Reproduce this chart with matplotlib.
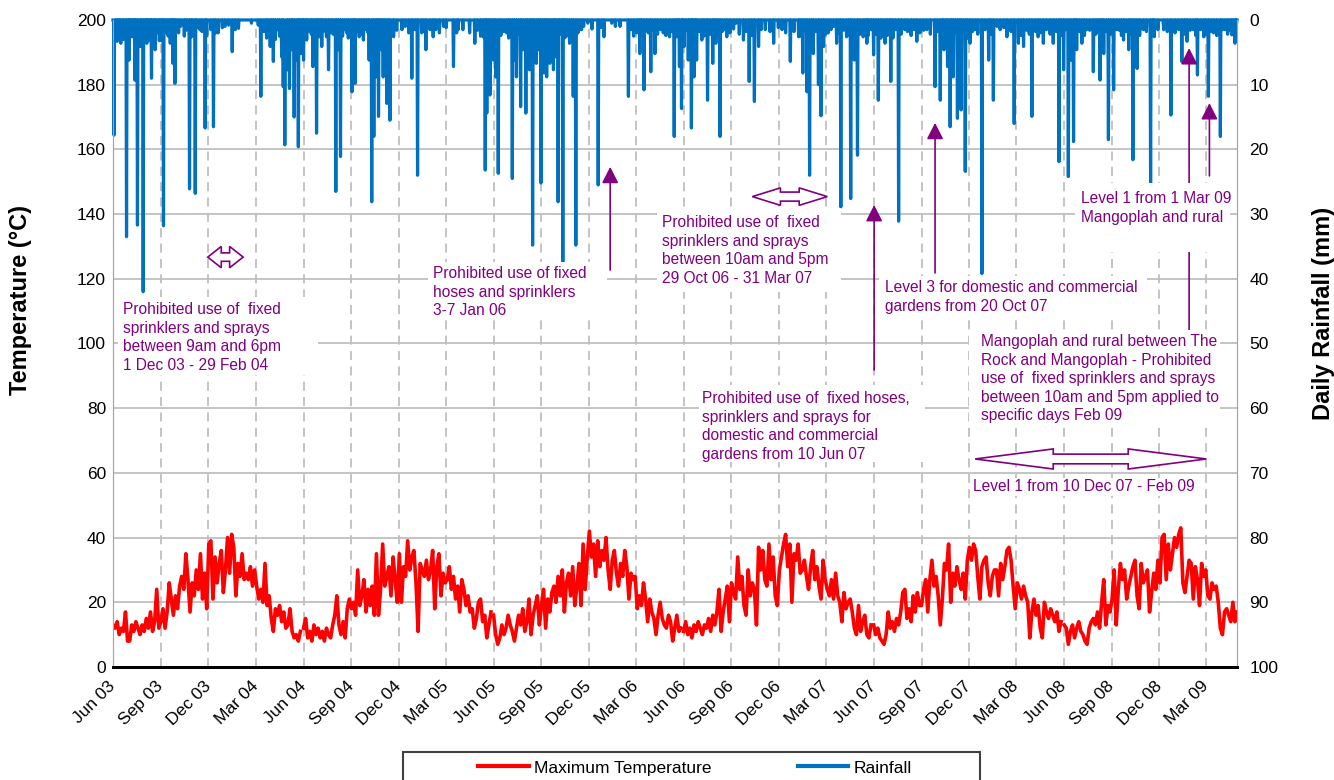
import numpy as np
import matplotlib
matplotlib.use('Agg')
import matplotlib.pyplot as plt
import matplotlib.dates as mdates
from matplotlib.patches import Polygon, Rectangle

plt.rcParams['font.family'] = ['Liberation Sans', 'DejaVu Sans']

temp_0304 = [13, 12, 14, 10, 12, 11, 17, 8, 8, 13, 11, 14, 12, 10, 13, 11, 15, 12, 17, 11, 14, 24, 12,
             14, 18, 12, 17, 26, 21, 16, 22, 18, 25, 28, 24, 35, 27, 17, 26, 22, 30, 24, 35, 21, 29, 18,
             38, 39, 21, 34, 26, 32, 36, 23, 30, 40, 29, 41, 37, 22, 32, 28, 35, 27, 29, 27, 31, 25, 30,
             25, 21, 24, 20, 32, 19, 22, 15, 11, 18, 16, 19, 14, 17, 12, 13, 18, 11, 9, 10, 8, 11]
temp_0405 = [12, 15, 9, 11, 8, 13, 10, 12, 9, 11, 8, 12, 10, 9, 13, 16, 22, 13, 10, 14, 9, 18, 21,
             18, 20, 16, 30, 19, 22, 27, 17, 24, 19, 25, 16, 35, 16, 24, 38, 25, 28, 31, 22, 34, 27, 20,
             35, 20, 31, 28, 39, 30, 34, 36, 26, 11, 32, 30, 28, 33, 27, 30, 36, 18, 31, 35, 22, 29, 26,
             27, 31, 24, 28, 21, 25, 17, 27, 24, 19, 22, 17, 18, 12, 15, 20, 21, 14, 16, 9, 13, 17]
temp_0506 = [16, 10, 7, 9, 13, 10, 12, 16, 13, 11, 8, 12, 16, 13, 18, 11, 14, 21, 10, 16, 19, 22, 13,
             19, 24, 12, 21, 17, 23, 25, 20, 28, 22, 30, 17, 26, 29, 22, 31, 19, 25, 32, 19, 38, 24, 34,
             42, 34, 38, 28, 39, 31, 36, 33, 40, 30, 24, 33, 36, 29, 25, 32, 28, 36, 31, 21, 29, 27, 28,
             18, 22, 19, 26, 21, 14, 21, 17, 15, 10, 16, 20, 15, 13, 12, 16, 14, 8, 12, 16, 11, 12]
temp_0607 = [11, 14, 10, 12, 9, 13, 11, 14, 12, 10, 13, 12, 15, 11, 16, 13, 17, 24, 11, 17, 21, 25, 14,
             26, 23, 21, 34, 24, 28, 19, 16, 30, 22, 26, 24, 13, 37, 30, 36, 27, 25, 38, 27, 34, 22, 19,
             30, 34, 38, 41, 31, 38, 20, 35, 33, 38, 29, 30, 33, 28, 24, 31, 36, 27, 31, 25, 21, 33, 27,
             24, 22, 27, 21, 29, 22, 20, 14, 23, 18, 20, 21, 17, 12, 10, 19, 11, 14, 16, 10, 9, 13]
temp_0708 = [13, 10, 12, 9, 8, 7, 10, 17, 12, 14, 11, 15, 13, 17, 23, 24, 15, 18, 14, 22, 17, 23, 19,
             19, 24, 27, 17, 27, 33, 25, 28, 22, 13, 21, 32, 30, 38, 20, 29, 25, 31, 27, 24, 29, 21, 33,
             37, 33, 38, 36, 28, 21, 31, 33, 34, 26, 22, 28, 30, 30, 22, 32, 27, 31, 36, 37, 33, 25, 18,
             26, 24, 21, 25, 22, 20, 9, 17, 21, 16, 19, 12, 9, 20, 17, 15, 18, 16, 14, 17, 11, 14]
temp_0809 = [13, 12, 7, 11, 13, 9, 12, 14, 11, 10, 8, 7, 12, 14, 15, 13, 17, 12, 20, 27, 13, 19, 17,
             21, 30, 13, 24, 32, 27, 30, 21, 25, 28, 31, 33, 22, 18, 32, 26, 28, 30, 17, 23, 29, 24, 33,
             26, 40, 41, 27, 38, 30, 35, 40, 37, 41, 43, 26, 23, 28, 33, 32, 21, 31, 27, 19, 32, 28, 30,
             22, 21, 26, 24, 25, 20, 12, 10, 17, 18, 16, 14, 20, 14, 17]
seasons = [temp_0304, temp_0405, temp_0506, temp_0607, temp_0708, temp_0809]
season_start = [0, 366, 731, 1096, 1461, 1827]   # days after 1 Jun 2003

# daily rainfall (mm): (day after 1 Jun 2003, mm) for the rain days
rain_events = [
    (2, 17.8), (8, 3.3), (15, 3.6), (26, 33.5), (31, 6.2), (36, 2.6), (42, 9.3), (47, 31.7),
    (53, 4.1), (58, 42.0), (65, 3.6), (70, 3.1), (74, 9.0), (81, 4.6), (87, 1.5), (92, 3.1),
    (97, 31.8), (103, 2.0), (110, 3.6), (115, 6.7), (119, 9.8), (126, 2.0), (143, 1.5), (147, 26.1),
    (151, 2.6), (158, 26.8), (167, 1.5), (177, 16.7), (193, 16.5), (202, 2.0), (215, 1.0), (222, 0.8),
    (229, 4.9), (241, 1.3), (266, 0.5), (279, 0.8), (284, 11.8), (298, 1.5), (302, 4.1), (308, 6.4),
    (324, 5.7), (327, 10.3), (330, 19.3), (335, 7.7), (339, 10.6), (343, 4.6), (348, 15.0), (352, 6.2),
    (356, 19.6), (361, 5.2), (366, 6.2), (372, 3.1), (378, 1.8), (384, 7.2), (391, 17.5), (396, 2.6),
    (401, 4.1), (407, 1.5), (414, 7.7), (420, 2.0), (428, 26.5), (433, 4.6), (437, 21.1), (449, 2.0),
    (459, 11.1), (465, 9.8), (473, 2.6), (481, 3.1), (487, 1.5), (492, 6.2), (497, 28.1), (501, 18.0),
    (505, 8.8), (510, 14.9), (515, 4.6), (519, 8.8), (526, 12.9), (532, 15.5), (539, 2.6), (555, 1.5),
    (561, 1.0), (574, 9.0), (585, 24.0), (593, 2.0), (601, 4.6), (609, 1.5), (615, 2.6), (627, 2.0),
    (635, 1.0), (654, 7.2), (663, 1.5), (695, 3.6), (711, 2.6), (715, 23.2), (718, 14.4), (724, 11.6),
    (731, 6.2), (735, 8.8), (740, 23.7), (756, 2.0), (767, 24.5), (771, 6.2), (775, 8.8), (783, 13.4),
    (788, 4.6), (793, 14.4), (800, 7.7), (806, 34.8), (813, 6.7), (817, 4.6), (822, 25.2), (828, 8.2),
    (833, 8.8), (839, 6.7), (846, 7.7), (851, 5.7), (855, 28.1), (864, 37.4), (870, 2.6), (877, 3.6),
    (884, 11.8), (889, 34.8), (897, 1.5), (904, 1.0), (912, 0.5), (932, 25.5), (943, 2.6), (958, 0.5),
    (974, 1.0), (990, 11.8), (1006, 2.0), (1012, 5.2), (1020, 10.8), (1025, 1.5), (1033, 8.0),
    (1041, 5.2), (1057, 2.0), (1069, 2.6), (1078, 18.0), (1088, 7.2), (1092, 13.7), (1097, 4.1),
    (1105, 6.2), (1111, 16.7), (1116, 8.8), (1121, 6.2), (1131, 3.1), (1142, 12.4), (1152, 6.7),
    (1158, 3.6), (1166, 18.0), (1179, 2.6), (1197, 0.5), (1211, 3.1), (1222, 9.5), (1232, 12.6),
    (1240, 4.1), (1253, 1.5), (1269, 3.6), (1285, 1.5), (1301, 6.4), (1317, 2.6), (1325, 8.2),
    (1333, 11.1), (1338, 24.0), (1345, 5.2), (1355, 10.0), (1360, 14.8), (1365, 4.1), (1374, 2.0),
    (1384, 1.0), (1390, 3.6), (1398, 28.9), (1409, 2.6), (1417, 27.6), (1424, 6.2), (1430, 20.9),
    (1441, 2.6), (1448, 3.6), (1454, 1.5), (1461, 5.4), (1470, 12.4), (1483, 3.6), (1494, 9.5),
    (1509, 31.1), (1521, 1.5), (1544, 3.3), (1563, 1.5), (1579, 10.3), (1589, 12.4), (1596, 4.6),
    (1603, 7.2), (1608, 16.5), (1614, 8.8), (1622, 15.2), (1629, 13.9), (1637, 23.4), (1646, 3.6),
    (1656, 1.5), (1669, 39.2), (1682, 6.2), (1691, 12.4), (1698, 1.0), (1717, 2.6), (1731, 16.0),
    (1739, 3.6), (1749, 4.1), (1765, 14.9), (1781, 2.0), (1787, 3.6), (1806, 3.6), (1817, 21.9),
    (1826, 7.7), (1835, 24.2), (1840, 6.2), (1845, 18.8), (1851, 4.6), (1861, 3.6), (1870, 1.5),
    (1883, 8.0), (1896, 9.3), (1903, 5.2), (1912, 18.5), (1922, 10.8), (1928, 1.5), (1941, 3.1),
    (1951, 4.6), (1959, 21.6), (1967, 7.5), (1979, 1.5), (1993, 25.5), (2000, 2.6), (2018, 1.5),
    (2032, 14.7), (2053, 6.4), (2063, 3.3), (2075, 1.5), (2083, 8.5), (2095, 2.6), (2104, 11.8),
    (2114, 2.0), (2127, 18.0), (2136, 1.5), (2149, 2.3), (2155, 3.6), (2158, 0.5),
]
# light falls that make the dense fringe along the top
rain_light = [
    (3, 1.5), (5, 2.5), (10, 1.2), (12, 2.0), (18, 1.5), (20, 3.0), (23, 1.0), (29, 2.2), (33, 1.4),
    (38, 2.0), (40, 1.2), (44, 3.0), (50, 1.8), (55, 2.5), (61, 1.2), (63, 3.5), (67, 2.0), (72, 1.5),
    (77, 2.8), (79, 1.0), (84, 2.0), (89, 3.2), (95, 2.0), (100, 1.4), (106, 2.5), (112, 1.8),
    (117, 2.2), (123, 1.5), (130, 1.0), (137, 2.5), (140, 1.6), (154, 2.0), (161, 1.2), (171, 1.8),
    (180, 2.4), (188, 1.5), (197, 2.0), (210, 1.2), (235, 1.5), (290, 1.8), (295, 2.8), (305, 2.0),
    (312, 3.0), (316, 1.5), (320, 2.5), (331, 3.0), (345, 2.2), (358, 2.5), (364, 1.8), (369, 2.5),
    (375, 1.6), (381, 2.2), (388, 3.0), (393, 1.5), (399, 2.0), (404, 1.8), (410, 2.6), (417, 1.4),
    (423, 2.2), (430, 1.8), (441, 2.5), (445, 1.5), (452, 2.8), (456, 1.6), (462, 2.4), (468, 1.8),
    (477, 2.2), (484, 1.4), (490, 2.0), (507, 2.5), (513, 1.8), (522, 2.5), (529, 1.4), (545, 1.6),
    (568, 2.0), (580, 1.5), (597, 1.8), (620, 1.5), (640, 1.2), (660, 2.0), (672, 1.5), (685, 2.0),
    (700, 1.6), (706, 2.5), (721, 2.0), (728, 1.5), (745, 2.4), (751, 1.8), (760, 2.8), (763, 1.5),
    (779, 2.2), (785, 1.8), (796, 2.5), (803, 1.5), (809, 2.6), (820, 2.0), (825, 1.4), (831, 2.8),
    (836, 1.5), (843, 2.4), (849, 1.8), (858, 2.2), (862, 1.5), (867, 2.8), (873, 1.6), (881, 2.2),
    (893, 2.0), (900, 1.5), (920, 1.4), (938, 1.2), (965, 1.0), (995, 1.5), (1000, 2.5), (1009, 1.8),
    (1015, 2.4), (1028, 2.0), (1036, 1.6), (1046, 2.2), (1052, 1.5), (1062, 2.4), (1074, 1.8),
    (1082, 2.6), (1085, 1.4), (1094, 2.2), (1101, 1.6), (1108, 2.8), (1113, 1.5), (1119, 2.2),
    (1126, 1.8), (1135, 2.5), (1139, 1.4), (1147, 2.2), (1155, 1.6), (1162, 2.4), (1170, 1.8),
    (1175, 1.5), (1185, 2.0), (1192, 1.4), (1203, 2.2), (1216, 1.8), (1227, 2.4), (1245, 1.5),
    (1262, 1.8), (1278, 1.2), (1292, 2.0), (1308, 1.8), (1320, 2.5), (1329, 1.6), (1342, 2.4),
    (1350, 1.8), (1369, 2.2), (1379, 1.5), (1394, 2.0), (1403, 1.6), (1413, 2.4), (1420, 1.5),
    (1435, 2.2), (1444, 1.8), (1450, 2.5), (1457, 1.5), (1465, 2.2), (1475, 2.8), (1479, 1.5),
    (1487, 2.4), (1491, 1.6), (1498, 2.8), (1503, 1.5), (1514, 2.2), (1526, 1.8), (1533, 2.4),
    (1539, 1.5), (1550, 2.0), (1557, 1.6), (1570, 2.2), (1584, 1.8), (1593, 2.4), (1600, 1.5),
    (1611, 2.6), (1618, 1.8), (1626, 2.2), (1633, 1.5), (1641, 2.8), (1651, 1.8), (1661, 2.2),
    (1675, 1.5), (1686, 2.2), (1704, 1.5), (1711, 1.2), (1725, 1.8), (1744, 2.4), (1755, 1.6),
    (1760, 2.2), (1772, 1.8), (1777, 2.6), (1793, 1.5), (1800, 2.2), (1812, 1.8), (1821, 2.4),
    (1830, 1.5), (1848, 2.2), (1856, 1.8), (1866, 2.4), (1876, 1.6), (1888, 2.2), (1892, 1.5),
    (1899, 2.6), (1908, 1.8), (1916, 2.2), (1933, 1.6), (1937, 2.4), (1946, 1.8), (1955, 2.2),
    (1963, 1.5), (1972, 2.4), (1985, 1.8), (1997, 2.2), (2007, 1.5), (2025, 1.8), (2040, 2.0),
    (2047, 1.5), (2058, 2.2), (2069, 1.6), (2080, 2.4), (2089, 1.5), (2099, 2.2), (2109, 1.8),
    (2120, 2.4), (2131, 1.5), (2141, 2.2), (2146, 1.6), (2152, 2.0),
]
n_days = 2160

notes = [
    "Prohibited use of  fixed\nsprinklers and sprays\nbetween 9am and 6pm\n1 Dec 03 - 29 Feb 04",
    "Prohibited use of fixed\nhoses and sprinklers\n3-7 Jan 06",
    "Prohibited use of  fixed\nsprinklers and sprays\nbetween 10am and 5pm\n29 Oct 06 - 31 Mar 07",
    "Level 3 for domestic and commercial\ngardens from 20 Oct 07",
    "Prohibited use of  fixed hoses,\nsprinklers and sprays for\ndomestic and commercial\ngardens from 10 Jun 07",
    "Level 1 from 1 Mar 09\nMangoplah and rural",
    "Mangoplah and rural between The\nRock and Mangoplah - Prohibited\nuse of  fixed sprinklers and sprays\nbetween 10am and 5pm applied to\nspecific days Feb 09",
]

PURPLE = '#800080'
t0 = mdates.date2num(np.datetime64('2003-06-01'))

fig = plt.figure(figsize=(13.34, 7.8), dpi=100)
ax = fig.add_axes([0.0847, 0.1449, 0.8426, 0.8295])
ax2 = ax.twinx()

for start, vals in zip(season_start, seasons):
    days = start + 4 * np.arange(len(vals))
    ax.plot(t0 + days, vals, color='#FF0000', lw=2.6, zorder=3)

rain = np.zeros(n_days)
for d, mm in rain_light + rain_events:
    rain[d] = max(rain[d], mm)
ax2.plot(t0 + np.arange(n_days), rain, color='#0070C0', lw=2.3, zorder=2, clip_on=False)

ax.set_xlim(t0, t0 + n_days - 1)
ax.set_ylim(0, 200)
ax.set_yticks(np.arange(0, 201, 20))
ax2.set_ylim(100, 0)
ax2.set_yticks(np.arange(0, 101, 10))
ax.xaxis.set_major_locator(mdates.MonthLocator(bymonth=[3, 6, 9, 12]))
ax.xaxis.set_major_formatter(mdates.DateFormatter('%b %y'))
for lab in ax.get_xticklabels():
    lab.set_rotation(45)
    lab.set_ha('right')
    lab.set_va('center')
    lab.set_rotation_mode('anchor')

ax.grid(axis='y', color='#BFBFBF', lw=1.3, ls='-')
ax.grid(axis='x', color='#BFBFBF', lw=1.3, ls=(0, (5, 3.5)))
ax.set_axisbelow(True)
ax.tick_params(axis='x', length=0, pad=12, labelsize=12.5)
ax.tick_params(axis='y', length=0, pad=5, labelsize=12.5)
ax2.tick_params(axis='y', length=0, pad=9, labelsize=12.5)
for a in (ax, ax2):
    a.spines['top'].set_visible(False)
    a.spines['left'].set_color('#A6A6A6')
    a.spines['right'].set_color('#A6A6A6')
    a.spines['bottom'].set_color('black')
    a.spines['bottom'].set_linewidth(2)

fig.text(0.015, 0.615, 'Temperature (°C)', rotation=90, ha='center', va='center',
         fontsize=17, fontweight='bold')
fig.text(0.9918, 0.598, 'Daily Rainfall (mm)', rotation=90, ha='center', va='center',
         fontsize=17, fontweight='bold')

# white text boxes (axes fraction) and note text positions
boxes = [(0.0044, 0.4513, 0.1824, 0.5719), (0.2802, 0.5363, 0.4395, 0.6260),
         (0.4840, 0.5796, 0.6477, 0.7094), (0.6815, 0.5456, 0.9199, 0.6043),
         (0.5214, 0.3168, 0.7224, 0.4359), (0.8559, 0.6414, 0.9938, 0.7481),
         (0.7616, 0.3787, 0.9849, 0.5209)]
text_pos = [(0.0089, 0.5641), (0.2847, 0.6198), (0.4884, 0.6986), (0.6868, 0.5981),
            (0.5240, 0.4266), (0.8612, 0.7357), (0.7722, 0.5147)]

# vertical arrows: day, tail temp, tip temp
arrows = [(955, 122.7, 154.6), (1579, 121.8, 168.2), (1462, 91.8, 142.8),
          (2106, 151.8, 174.3), (2067, 104.2, 191.3)]
for d, y0, y1 in arrows:
    ax2.annotate('', xy=(t0 + d, y1), xytext=(t0 + d, y0), xycoords=ax.transData,
                 textcoords=ax.transData, zorder=4,
                 arrowprops=dict(arrowstyle='-|>,head_length=0.55,head_width=0.28',
                                 color=PURPLE, lw=1.2, mutation_scale=18,
                                 shrinkA=0, shrinkB=0))

for (x0, y0, x1, y1), (tx, ty), s in zip(boxes, text_pos, notes):
    ax2.add_patch(Rectangle((x0, y0), x1 - x0, y1 - y0, transform=ax2.transAxes,
                            facecolor='white', edgecolor='none', zorder=5))
    ax2.text(tx, ty, s, transform=ax2.transAxes, ha='left', va='top', color=PURPLE,
             fontsize=11.2, linespacing=1.3, zorder=6)

ax2.text(0.7651, 0.2782, 'Level 1 from 10 Dec 07 - Feb 09', transform=ax2.transAxes,
         ha='left', va='center', color=PURPLE, fontsize=11.2, zorder=6,
         bbox=dict(facecolor='white', edgecolor='none', pad=1))

# block double arrows: start day, end day, temp, head length (days), head / body half height
dbl = [(182, 250, 126.7, 26, 3.3, 1.3), (1228, 1372, 145.4, 54, 2.7, 1.4),
       (1656, 2100, 64.3, 150, 3.1, 1.5)]
for d0, d1, yc, hl, hh, bh in dbl:
    x0, x1 = t0 + d0, t0 + d1
    pts = [(x0, yc), (x0 + hl, yc + hh), (x0 + hl, yc + bh), (x1 - hl, yc + bh),
           (x1 - hl, yc + hh), (x1, yc), (x1 - hl, yc - hh), (x1 - hl, yc - bh),
           (x0 + hl, yc - bh), (x0 + hl, yc - hh)]
    ax2.add_patch(Polygon(pts, closed=True, transform=ax.transData, facecolor='white',
                          edgecolor=PURPLE, lw=1.2, zorder=6))

h1, = ax.plot([], [], color='#FF0000', lw=3)
h2, = ax.plot([], [], color='#0070C0', lw=3)
fig.legend([h1, h2], ['Maximum Temperature', 'Rainfall'], loc='center',
           bbox_to_anchor=(0.521, 0.0154), ncol=2, frameon=False, fontsize=12.5,
           handlelength=2.9, handletextpad=0.3, columnspacing=5)
fig.patches.append(Rectangle((0.3021, -0.05), 0.4325, 0.0859, transform=fig.transFigure,
                             facecolor='none', edgecolor='#404040', lw=1.5))

fig.savefig('out.png', dpi=100)
